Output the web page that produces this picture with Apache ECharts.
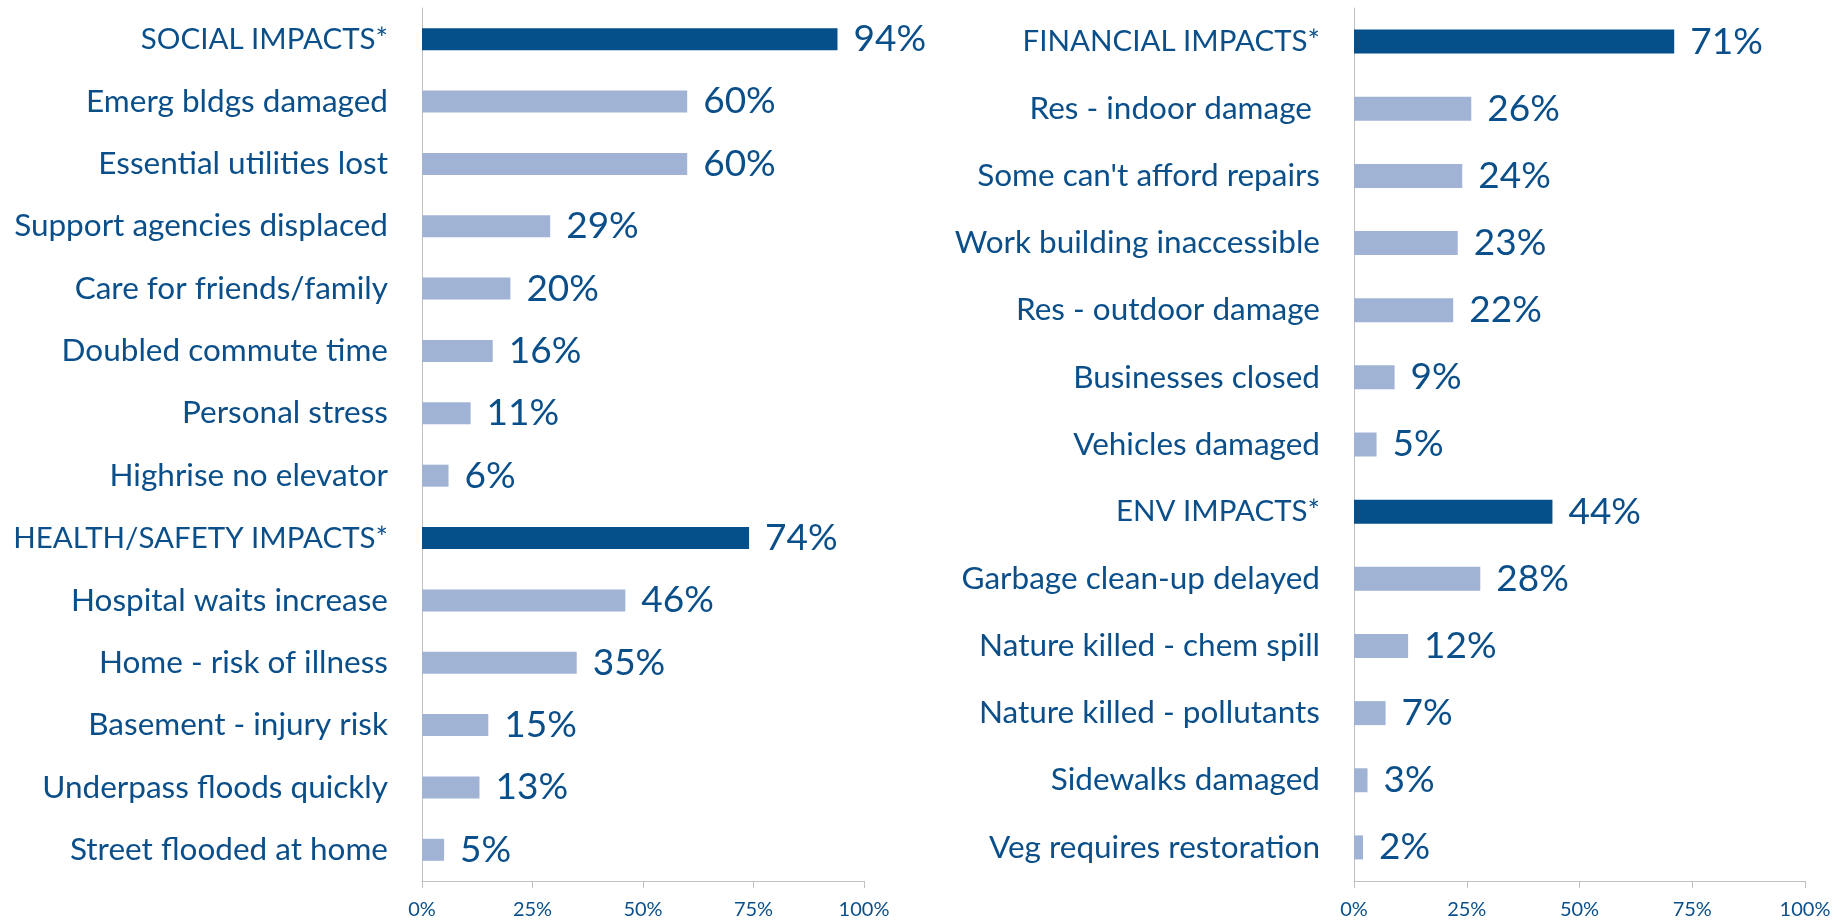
<!DOCTYPE html>
<html>
<head>
<meta charset="utf-8">
<script src="https://cdn.jsdelivr.net/npm/echarts@6/dist/echarts.min.js"></script>
<style>
  html, body { margin: 0; padding: 0; background: #fff; }
  #chart { width: 1845px; height: 922px; }
</style>
</head>
<body>
<div id="chart"></div>
<script>
// left panel
const leftCategories = ['SOCIAL IMPACTS*', 'Emerg bldgs damaged', 'Essential utilities lost', 'Support agencies displaced',
  'Care for friends/family', 'Doubled commute time', 'Personal stress', 'Highrise no elevator',
  'HEALTH/SAFETY IMPACTS*', 'Hospital waits increase', 'Home - risk of illness', 'Basement - injury risk',
  'Underpass floods quickly', 'Street flooded at home'];
const leftValues = [94, 60, 60, 29, 20, 16, 11, 6, 74, 46, 35, 15, 13, 5];

// right panel
const rightCategories = ['FINANCIAL IMPACTS*', 'Res - indoor damage ', "Some can't afford repairs", 'Work building inaccessible',
  'Res - outdoor damage', 'Businesses closed', 'Vehicles damaged', 'ENV IMPACTS*', 'Garbage clean-up delayed',
  'Nature killed - chem spill', 'Nature killed - pollutants', 'Sidewalks damaged', 'Veg requires restoration'];
const rightValues = [71, 26, 24, 23, 22, 9, 5, 44, 28, 12, 7, 3, 2];

const tickValues = [0, 25, 50, 75, 100];

const textColor = '#0b4f8a';
const darkBar = '#05508a';
const lightBar = '#a1b3d4';
const axisGray = '#c0c0c0';
const font = 'Lato';

function isHeader(name) {
  return name.indexOf('IMPACTS*') >= 0;
}

function barData(cats, vals) {
  return vals.map(function (v, i) {
    return {
      value: v,
      itemStyle: { color: isHeader(cats[i]) ? darkBar : lightBar }
    };
  });
}

function xAxis(idx) {
  return {
    type: 'value',
    gridIndex: idx,
    min: tickValues[0],
    max: tickValues[tickValues.length - 1],
    interval: 25,
    axisLine: { show: true, lineStyle: { color: axisGray, width: 1 } },
    axisTick: { show: true, length: 7, lineStyle: { color: axisGray } },
    splitLine: { show: false },
    axisLabel: { color: textColor, fontFamily: font, fontSize: 20, margin: 19, formatter: '{value}%' }
  };
}

function yAxis(idx, cats) {
  return {
    type: 'category',
    gridIndex: idx,
    inverse: true,
    data: cats,
    axisLine: { show: true, lineStyle: { color: axisGray, width: 1 } },
    axisTick: { show: false },
    axisLabel: {
      color: textColor,
      fontFamily: font,
      fontSize: 31.5,
      margin: 34,
      formatter: function (v) {
        return isHeader(v) ? '{hdr|' + v + '}' : v;
      },
      rich: {
        hdr: { color: textColor, fontFamily: font, fontSize: 29.5 }
      }
    }
  };
}

function barSeries(idx, cats, vals, w) {
  return {
    type: 'bar',
    xAxisIndex: idx,
    yAxisIndex: idx,
    barWidth: w,
    data: barData(cats, vals),
    label: {
      show: true,
      position: 'right',
      distance: 16,
      color: textColor,
      fontFamily: font,
      fontSize: 37,
      formatter: '{c}%'
    }
  };
}

let myChart = echarts.init(document.getElementById('chart'));
let option = {
  backgroundColor: '#ffffff',
  animation: false,
  grid: [
    { left: 422, right: 981, top: 8, bottom: 41 },
    { left: 1354, right: 40, top: 8, bottom: 41 }
  ],
  xAxis: [xAxis(0), xAxis(1)],
  yAxis: [yAxis(0, leftCategories), yAxis(1, rightCategories)],
  series: [
    barSeries(0, leftCategories, leftValues, 22),
    barSeries(1, rightCategories, rightValues, 24)
  ]
};
myChart.setOption(option);
</script>
</body>
</html>
